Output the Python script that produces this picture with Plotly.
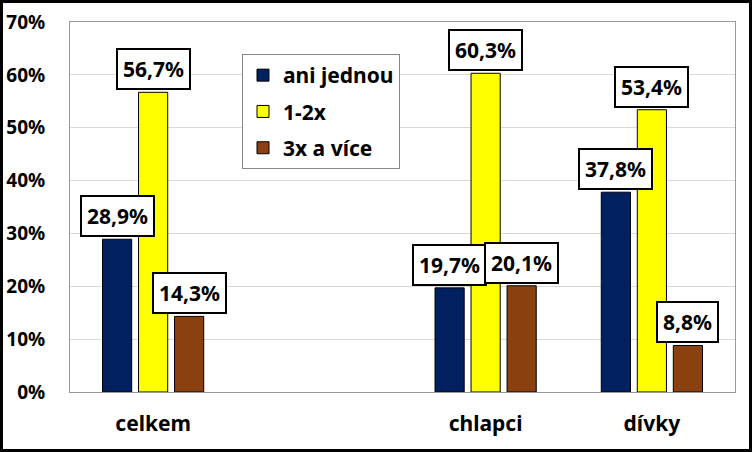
import plotly.graph_objects as go

categories = ["celkem", " ", "chlapci", "dívky"]
series_names = ["ani jednou", "1-2x", "3x a více"]
ani_jednou = [28.9, None, 19.7, 37.8]
jedna_dva = [56.7, None, 60.3, 53.4]
tri_a_vice = [14.3, None, 20.1, 8.8]
colors = ["#002060", "#FFFF00", "#8B4010"]
y_ticks = [0, 10, 20, 30, 40, 50, 60, 70]
y_tick_labels = [f"{v}%" for v in y_ticks]

W, H = 752, 452
ML, MR, MT, MB = 70, 17, 22, 60
PW, PH = W - ML - MR, H - MT - MB
BARGAP, GROUPGAP = 0.35, 0.19
FONT = "Noto Sans"
FS = 21

series = [ani_jednou, jedna_dva, tri_a_vice]

fig = go.Figure()
for i, (name, vals, col) in enumerate(zip(series_names, series, colors)):
    fig.add_trace(go.Bar(
        x=categories, y=vals, name=name, legendgroup=name,
        marker=dict(color=col, line=dict(color="#000000", width=1)),
    ))

slot = (1 - BARGAP) / len(series)
for si, vals in enumerate(series):
    off = (si - (len(series) - 1) / 2) * slot
    for ci, v in enumerate(vals):
        if v is None:
            continue
        fig.add_annotation(
            x=ci + off, y=v, xref="x", yref="y",
            text=f"{v:.1f}".replace(".", ",") + "%",
            showarrow=False, yanchor="bottom", yshift=2,
            bgcolor="white", bordercolor="black", borderwidth=2, borderpad=5,
            font=dict(family=FONT, size=FS, color="black", weight="bold"),
        )

# outer black frame
fig.add_shape(
    type="rect", xref="paper", yref="paper",
    x0=(1.5 - ML) / PW, x1=(W - 1.5 - ML) / PW,
    y0=(H - MB - (H - 1.5)) / PH, y1=(H - MB - 1.5) / PH,
    line=dict(color="black", width=3), layer="above",
)

fig.update_layout(
    width=W, height=H,
    margin=dict(l=ML, r=MR, t=MT, b=MB, pad=0, autoexpand=False),
    paper_bgcolor="white", plot_bgcolor="white",
    font=dict(family=FONT, size=FS, color="black", weight="bold"),
    barmode="group", bargap=BARGAP, bargroupgap=GROUPGAP,
    showlegend=True,
    legend=dict(
        x=(242 - ML) / PW, y=(H - MB - 54) / PH, xanchor="left", yanchor="top",
        bgcolor="white", bordercolor="#888888", borderwidth=1,
        traceorder="grouped", tracegroupgap=6,
        font=dict(family=FONT, size=FS, color="black", weight="bold"),
    ),
    xaxis=dict(
        type="category", categoryorder="array", categoryarray=categories,
        showgrid=False, showline=True, linecolor="#999999", linewidth=1, mirror=True,
        ticks="", ticklabelstandoff=13, automargin=False,
        tickfont=dict(family=FONT, size=FS, color="black", weight="bold"),
    ),
    yaxis=dict(
        range=[0, 70], tickvals=y_ticks, ticktext=y_tick_labels,
        showgrid=True, gridcolor="#D9D9D9", gridwidth=1,
        showline=True, linecolor="#999999", linewidth=1, mirror=True,
        ticks="", ticklabelstandoff=20, zeroline=False, automargin=False,
        tickfont=dict(family=FONT, size=19, color="black", weight="bold"),
    ),
)

fig.write_html("out.html")
